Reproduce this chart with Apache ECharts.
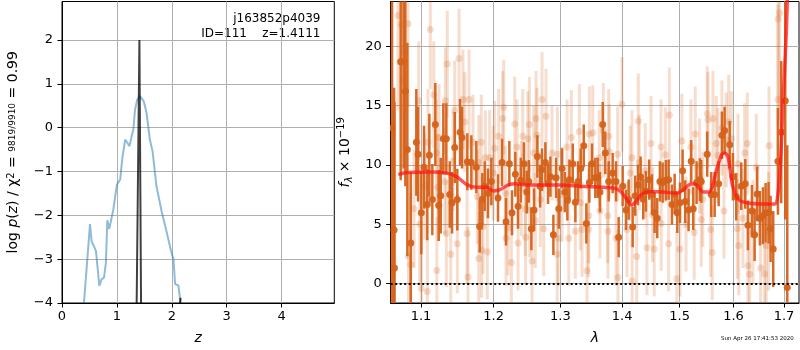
<!DOCTYPE html>
<html><head><meta charset="utf-8">
<script src="https://cdn.jsdelivr.net/npm/echarts@6/dist/echarts.min.js"></script>
<style>html,body{margin:0;padding:0;background:#fff}#c{width:800px;height:350px}</style>
</head><body><div id="c"></div><script>
// ---------- Left panel: log p(z) ----------
const zGrid = [0.40,0.51,0.54,0.57,0.62,0.68,0.72,0.765,0.80,0.825,0.86,0.89,0.935,1.0,1.03,1.06,1.10,1.15,1.18,1.23,1.27,1.30,1.33,1.37,1.42,1.49,1.54,1.60,1.65,1.72,1.82,1.91,1.98,2.03,2.06,2.09,2.12,2.15,2.16];
const logPz = [-4,-2.2,-2.6,-2.67,-2.82,-3.61,-3.46,-3.42,-3.08,-2.11,-2.31,-2.33,-1.87,-1.3,-1.26,-1.18,-0.69,-0.27,-0.23,-0.42,-0.19,-0.04,0.41,0.64,0.72,0.60,0.34,-0.27,-0.54,-1.33,-1.94,-2.40,-2.78,-3.00,-3.57,-3.61,-3.60,-3.57,-4.0];
const spikeZ = [1.36,1.41,1.44];
const spikeLogP = [-4,2.0,-4];
const tailZ = [2.15,2.16];
const tailLogP = [-4,-3.88];
const zTicks = [0,1,2,3,4];
const logPTicks = [-4,-3,-2,-1,0,1,2];

// ---------- Right panel: spectrum ----------
const darkWave = [1.0624,1.0650,1.0655,1.0735,1.0774,1.0795,1.0821,1.0865,1.0938,1.0961,1.1004,1.1040,1.1083,1.1110,1.1150,1.1190,1.1236,1.1263,1.1298,1.1339,1.1385,1.1417,1.1454,1.1489,1.1527,1.1554,1.1628,1.1684,1.1754,1.1802,1.1839,1.1873,1.1920,1.1968,1.2064,1.2122,1.2180,1.2229,1.2268,1.2317,1.2357,1.2397,1.2446,1.2487,1.2517,1.2556,1.2597,1.2647,1.2688,1.2718,1.2769,1.2810,1.2846,1.2892,1.2934,1.2976,1.3027,1.3069,1.3110,1.3142,1.3195,1.3236,1.3279,1.3322,1.3370,1.3412,1.3460,1.3504,1.3557,1.3596,1.3633,1.3678,1.3720,1.3776,1.3842,1.3897,1.3942,1.4009,1.4065,1.4110,1.4178,1.4222,1.4268,1.4314,1.4359,1.4405,1.4462,1.4509,1.4556,1.4602,1.4649,1.4697,1.4755,1.4803,1.4862,1.4910,1.4956,1.5005,1.5053,1.5100,1.5162,1.5209,1.5246,1.5308,1.5369,1.5393,1.5504,1.5579,1.5643,1.5718,1.5780,1.5831,1.5927,1.5990,1.6053,1.6150,1.6228,1.6280,1.6358,1.6411,1.6462,1.6515,1.6575,1.6628,1.6688,1.6728,1.6781,1.6876,1.6943,1.7025,1.7066];
const darkFlux = [13.1,4.5,1.3,18.7,18.7,16.2,11.3,3.4,11.9,10.9,5.96,9.8,6.65,10.8,7.07,13.4,6.57,7.4,12.2,12.2,7.5,6.8,11.46,7.07,12.75,12.3,10.26,10.2,9.8,4.8,7.1,8.2,7.6,8.6,7.2,10.2,5.2,10.1,5.96,9.2,6.5,8.7,10.1,7.7,8.6,4.6,6.2,10.7,8.2,9.6,10.2,8.4,9.0,4.1,8.9,6.3,9.7,7.7,7.0,8.75,10.1,6.85,8.6,9.7,11.6,5.06,8.5,10.1,8.9,8.9,7.7,13.4,11.0,8.6,9.3,8.6,3.9,8.2,6.2,7.07,4.75,7.4,8.3,9.0,7.1,7.77,8.75,7.5,5.96,5.5,8.6,8.5,8.7,8.75,6.65,7.55,5.96,6.8,9.5,6.9,6.2,10.3,6.3,8.5,8.75,8.6,10.9,7.5,7.5,8.4,12.5,12.9,11.7,9.0,7.3,8.2,8.4,4.9,6.1,4.1,7.55,5.5,5.7,5.96,5.96,4.6,2.9,10.3,12.75,15.4,-0.34];
const darkErr = [15,12,14,10,9,8,9,6,4.5,4,3.5,3.5,3,3.5,3,3.5,3,3.2,3,3,2.8,2.6,3,2.6,2.8,2.6,2.4,2.3,2.2,2.2,2.2,2.1,2.1,2.0,2.0,2.0,2.0,1.9,1.9,1.9,1.9,1.9,1.8,1.8,1.8,1.8,1.8,1.8,1.8,1.8,1.7,1.7,1.7,1.7,1.7,1.7,1.7,1.7,1.7,1.7,1.7,1.7,1.7,1.7,1.8,1.7,1.7,1.7,1.7,1.7,1.7,1.9,1.8,1.7,1.7,1.7,1.7,1.7,1.7,1.7,1.7,1.7,1.7,1.7,1.7,1.7,1.7,1.7,1.7,1.7,1.7,1.7,1.7,1.7,1.7,1.7,1.7,1.7,1.8,1.8,1.8,1.8,1.8,1.8,1.8,1.8,1.9,1.9,1.9,1.9,2.0,2.0,2.0,2.0,2.0,2.0,2.1,2.1,2.2,2.2,2.3,2.3,2.4,2.5,2.6,2.8,3.2,4.5,6,10,12];

const lightWave = [1.0701,1.0743,1.0830,1.0835,1.0765,1.0778,1.0865,1.0908,1.0970,1.0983,1.1004,1.1049,1.1083,1.1092,1.1123,1.1169,1.1204,1.1210,1.1225,1.1240,1.1317,1.1325,1.1339,1.1352,1.1399,1.1431,1.1454,1.1489,1.1513,1.1568,1.1592,1.1624,1.1638,1.1652,1.1708,1.1768,1.1788,1.1790,1.1825,1.1828,1.1849,1.1882,1.1910,1.1943,1.1993,1.2016,1.2074,1.2132,1.2147,1.2170,1.2180,1.2210,1.2258,1.2308,1.2342,1.2357,1.2406,1.2427,1.2465,1.2470,1.2502,1.2526,1.2530,1.2566,1.2592,1.2616,1.2626,1.2641,1.2692,1.2718,1.2744,1.2779,1.2871,1.2951,1.2954,1.2965,1.3027,1.3105,1.3132,1.3173,1.3236,1.3300,1.3316,1.3343,1.3423,1.3446,1.3450,1.3460,1.3515,1.3622,1.3633,1.3688,1.3760,1.3765,1.3776,1.3785,1.3897,1.3926,1.3930,1.3998,1.4082,1.4137,1.4166,1.4170,1.4247,1.4274,1.4291,1.4393,1.4422,1.4493,1.4521,1.4549,1.4668,1.4672,1.4744,1.4803,1.4815,1.4949,1.5005,1.5040,1.5115,1.5204,1.5264,1.5283,1.5363,1.5393,1.5422,1.5504,1.5518,1.5568,1.5598,1.5611,1.5673,1.5704,1.5780,1.5818,1.5862,1.5908,1.5960,1.6074,1.6087,1.6101,1.6183,1.6216,1.6267,1.6280,1.6313,1.6378,1.6443,1.6530,1.6608,1.6640,1.6688,1.6697,1.6876,1.6880,1.6911];
const lightFlux = [22.6,21.8,21.9,2.3,17.1,19.5,1.6,6.3,15.4,5.0,-0.4,8.2,-0.67,11.9,21.4,15.9,11.0,1.1,8.1,12.3,8.6,15.4,4.2,18.5,2.46,10.3,14.6,3.35,18.96,15.5,13.6,4.2,0.55,15.5,11.9,7.3,2.1,10.2,11.9,2.8,4.8,10.6,2.65,10.6,9.3,11.4,12.4,13.9,14.85,7.6,3.8,4.7,1.76,13.45,11.5,3.4,8.0,12.4,6.3,3.9,12.2,13.4,6.2,1.9,11.0,5.3,13.9,12.5,7.07,15.5,4.6,14.1,11.0,2.46,10.9,3.8,7.5,11.5,3.8,12.3,4.4,12.8,6.8,4.55,1.06,4.55,5.7,12.6,12.7,10.6,6.1,12.9,5.7,4.4,12.4,11.1,3.8,10.9,0.5,15.1,4.55,9.3,10.6,0.2,2.26,13.7,10.2,9.5,3.0,11.8,5.8,2.9,11.5,5.06,10.85,3.35,14.2,0.4,2.9,12.0,5.0,11.5,4.3,12.6,9.9,5.4,7.1,14.3,13.8,4.55,2.6,13.9,11.8,10.8,13.1,6.1,12.1,13.6,12.2,4.6,10.1,3.2,5.5,11.0,11.8,1.5,0.78,4.3,9.8,1.3,0.8,3.2,4.4,11.6,15.5,22.3,22.8];
const lightErr = [8,8,7,7,8,8,6,5,5,5,5,4.5,4.5,4.5,5,4.5,4.5,4.5,4.5,4.5,4.5,4.5,4.5,4.5,4.5,4.2,4.2,4.2,4.2,4.2,4.2,4.2,4.2,4.2,4,4,4,4,4,4,4,4,4,4,4,4,4,4,4,4,4,4,4,4,4,4,4,4,4,4,4,4,4,4,4,4,4,4,4,4,4,4,4,4,4,4,4,4,4,4,4,4,4,4,4,4,4,4,4,4,4,4,4,4,4,4,4,4,4,4,4,4,4,4,4,4,4,4,4,4,4,4,4,4,4,4,4,4,4,4,4,4,4,4,4,4,4,4,4,4,4,4,4,4,4,4,4,4,4,4.2,4.2,4.2,4.2,4.2,4.3,4.3,4.3,4.4,4.5,4.6,4.8,4.8,5,5,8,9,9];

const modelWave = [1.0704,1.0813,1.1119,1.1345,1.1481,1.1620,1.1760,1.1902,1.1996,1.2093,1.2214,1.2313,1.2536,1.2996,1.3311,1.3688,1.3853,1.3965,1.4077,1.4162,1.4218,1.4331,1.4476,1.4708,1.4946,1.5064,1.5217,1.5308,1.5430,1.5555,1.5681,1.5774,1.5837,1.5899,1.5982,1.6093,1.6255,1.6577,1.6815,1.6876,1.6931,1.6981,1.7045,1.7075];
const modelFlux = [9.17,9.35,9.4,9.3,9.0,8.33,8.1,8.1,7.8,7.9,8.3,8.4,8.3,8.3,8.2,8.1,8.05,7.8,7.1,6.6,6.8,7.5,7.75,7.7,7.6,7.9,8.4,8.3,7.7,7.75,9.6,10.85,11.0,10.6,8.3,7.1,6.8,6.7,6.7,7.5,10.4,15.5,21,25];
const waveTicks = [1.1,1.2,1.3,1.4,1.5,1.6,1.7];
const fluxTicks = [0,5,10,15,20];
const waveMin = 1.0607, waveMax = 1.7308;

// ---------- build ----------
const ORANGE = '#d5621a';
const FONT = 'DejaVu Sans';
const pair = (xs, ys) => xs.map((x, i) => [x, ys[i]]);
const ln = Math.log;
const triple = (w, f, e) => w.map((x, i) => [ln(x), f[i], e[i]]);

function errItem(color, alpha, lw, r) {
  return function (params, api) {
    const x = api.value(0), y = api.value(1), e = api.value(2);
    const c = api.coord([x, y]);
    const t = api.coord([x, y + e]);
    const b = api.coord([x, y - e]);
    return { type: 'group', children: [
      { type: 'line', shape: { x1: c[0], y1: t[1], x2: c[0], y2: b[1] }, style: { stroke: color, lineWidth: lw, opacity: alpha } },
      { type: 'circle', shape: { cx: c[0], cy: c[1], r: r }, style: { fill: color, opacity: alpha } }
    ]};
  };
}

const axisCommon = {
  axisLine: { show: true, onZero: false, lineStyle: { color: '#000', width: 1 } },
  axisTick: { show: true, length: 4.5, lineStyle: { color: '#000', width: 1 } },
  axisLabel: { color: '#000', fontFamily: FONT, fontSize: 13 },
  splitLine: { show: true, lineStyle: { color: '#b0b0b0', width: 1 } },
  nameTextStyle: { color: '#000', fontFamily: FONT, fontSize: 13 }
};
function ax(extra) {
  const o = JSON.parse(JSON.stringify(axisCommon));
  for (const k in extra) {
    if (typeof extra[k] === 'object' && !Array.isArray(extra[k]) && o[k]) Object.assign(o[k], extra[k]);
    else o[k] = extra[k];
  }
  return o;
}

const chart = echarts.init(document.getElementById('c'), null, { renderer: 'canvas' });
const option = {
  animation: false,
  backgroundColor: '#fff',
  grid: [
    { left: 62, top: 1.5, width: 272.3, height: 302.2, show: true, borderColor: '#000', borderWidth: 1, containLabel: false },
    { left: 390.7, top: 1.5, width: 408.3, height: 302.5, show: true, borderColor: '#000', borderWidth: 1, containLabel: false }
  ],
  xAxis: [
    ax({ type: 'value', gridIndex: 0, min: 0, max: 4.96,
      axisTick: { customValues: zTicks }, axisLabel: { customValues: zTicks, margin: 7 },
      name: 'z', nameLocation: 'middle', nameGap: 28,
      nameTextStyle: { fontStyle: 'italic', fontSize: 14 } }),
    ax({ type: 'value', gridIndex: 1, min: ln(waveMin), max: ln(waveMax),
      axisTick: { customValues: waveTicks.map(ln) },
      axisLabel: { customValues: waveTicks.map(ln), margin: 7, formatter: v => Math.exp(v).toFixed(1) },
      name: 'λ', nameLocation: 'middle', nameGap: 28,
      nameTextStyle: { fontStyle: 'italic', fontSize: 14 } })
  ],
  yAxis: [
    ax({ type: 'value', gridIndex: 0, min: -4, max: 2.88,
      axisTick: { customValues: logPTicks },
      axisLabel: { customValues: logPTicks, margin: 9, formatter: v => String(v).replace('-', '\u2212') },
      name: '{n|log }{i|p}{n|(}{i|z}{n|) / χ}{sup|2}{n| = }{fr|9819/9910}{n| = 0.99}',
      nameLocation: 'middle', nameRotate: 90, nameGap: 42,
      nameTextStyle: { rich: {
        n: { fontFamily: FONT, fontSize: 14, color: '#000' },
        i: { fontFamily: FONT, fontSize: 14, fontStyle: 'italic', color: '#000' },
        sup: { fontFamily: FONT, fontSize: 10, color: '#000', verticalAlign: 'top', lineHeight: 14 },
        fr: { fontFamily: FONT, fontSize: 9, color: '#000' }
      } } }),
    ax({ type: 'value', gridIndex: 1, min: -1.65, max: 23.77,
      axisTick: { customValues: fluxTicks },
      axisLabel: { customValues: fluxTicks, margin: 9 },
      name: '{i|f}{sub|λ}{n| × 10}{sup|−19}',
      nameLocation: 'middle', nameRotate: 90, nameGap: 32,
      nameTextStyle: { rich: {
        n: { fontFamily: FONT, fontSize: 14, color: '#000' },
        i: { fontFamily: FONT, fontSize: 14, fontStyle: 'italic', color: '#000' },
        sub: { fontFamily: FONT, fontSize: 10, fontStyle: 'italic', color: '#000', verticalAlign: 'bottom', lineHeight: 18 },
        sup: { fontFamily: FONT, fontSize: 10, color: '#000', verticalAlign: 'top', lineHeight: 18 }
      } } })
  ],
  graphic: [
    { type: 'text', right: 800 - 320.5, top: 13, style: { text: 'j163852p4039', font: '12px "DejaVu Sans"', fill: '#000' } },
    { type: 'text', right: 800 - 320.5, top: 28, style: { text: 'ID=111    z=1.4111', font: '12px "DejaVu Sans"', fill: '#000' } },
    { type: 'text', left: 721, top: 336, style: { text: 'Sun Apr 26 17:41:53 2020', font: '5.5px "DejaVu Sans"', fill: '#000' } }
  ],
  series: [
    { type: 'line', xAxisIndex: 0, yAxisIndex: 0, data: pair(zGrid, logPz), showSymbol: false,
      lineStyle: { color: 'rgba(31,119,180,0.5)', width: 2 }, clip: true, z: 3 },
    { type: 'line', xAxisIndex: 0, yAxisIndex: 0, data: pair(spikeZ, spikeLogP), showSymbol: false,
      lineStyle: { color: 'rgba(0,0,0,0.75)', width: 2 }, clip: true, z: 4 },
    { type: 'line', xAxisIndex: 0, yAxisIndex: 0, data: pair(tailZ, tailLogP), showSymbol: false,
      lineStyle: { color: 'rgba(0,0,0,0.75)', width: 2 }, clip: true, z: 4 },
    { type: 'custom', xAxisIndex: 1, yAxisIndex: 1, data: triple(lightWave, lightFlux, lightErr),
      renderItem: errItem(ORANGE, 0.22, 3, 3.5), clip: true, encode: { x: 0, y: 1 }, z: 2 },
    { type: 'custom', xAxisIndex: 1, yAxisIndex: 1, data: triple(darkWave, darkFlux, darkErr),
      renderItem: errItem(ORANGE, 0.95, 2.5, 3.5), clip: true, encode: { x: 0, y: 1 }, z: 3 },
    { type: 'line', xAxisIndex: 1, yAxisIndex: 1, data: modelWave.map((w, i) => [ln(w), modelFlux[i]]),
      showSymbol: false, smooth: 0.3, clip: true,
      lineStyle: { color: 'rgba(255,20,20,0.72)', width: 3.5 }, z: 5,
      markLine: { silent: true, symbol: 'none', label: { show: false },
        lineStyle: { color: '#000', type: [2, 2.5], width: 2 }, data: [{ yAxis: 0 }] } }
  ]
};
chart.setOption(option);
</script></body></html>
